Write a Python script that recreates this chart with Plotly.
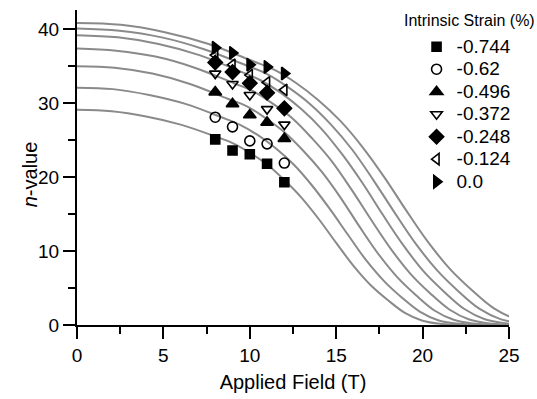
import plotly.graph_objects as go

# ---- data ----
strains = ["-0.744", "-0.62", "-0.496", "-0.372", "-0.248", "-0.124", "0.0"]
field_meas = [8, 9, 10, 11, 12]
n_meas = {
    "-0.744": [25.1, 23.6, 23.1, 21.8, 19.3],
    "-0.62":  [28.1, 26.8, 24.9, 24.5, 21.9],
    "-0.496": [31.5, 29.9, 28.4, 27.4, 25.2],
    "-0.372": [34.0, 32.6, 31.1, 29.2, 27.1],
    "-0.248": [35.5, 34.2, 32.7, 31.4, 29.3],
    "-0.124": [36.5, 35.2, 33.8, 32.8, 31.8],
    "0.0":    [37.5, 36.8, 35.2, 34.9, 34.0],
}

fit_B = {
    "-0.744": [0, 2, 4, 6, 8, 9, 10, 11, 12, 13, 14, 15, 16, 17, 18, 19, 20, 21, 22, 23, 24],
    "-0.62":  [0, 2.09, 4.18, 6.27, 8.36, 9.41, 10.45, 11.5, 12.54, 13.59, 14.63, 15.68, 16.72, 17.77, 18.81, 19.86, 20.9, 21.95, 22.99, 24.04, 25.08],
    "-0.496": [0, 2.18, 4.36, 6.54, 8.72, 9.81, 10.9, 11.99, 13.08, 14.17, 15.26, 16.35, 17.44, 18.53, 19.62, 20.71, 21.8, 22.89, 23.98, 25.07, 26.16],
    "-0.372": [0, 2.27, 4.54, 6.81, 9.08, 10.22, 11.35, 12.49, 13.62, 14.76, 15.89, 17.03, 18.16, 19.3, 20.43, 21.57, 22.7, 23.84, 24.97, 26.11, 27.24],
    "-0.248": [0, 2.36, 4.72, 7.08, 9.44, 10.62, 11.8, 12.98, 14.16, 15.34, 16.52, 17.7, 18.88, 20.06, 21.24, 22.42, 23.6, 24.78, 25.96, 27.14, 28.32],
    "-0.124": [0, 2.45, 4.9, 7.35, 9.8, 11.03, 12.25, 13.48, 14.7, 15.93, 17.15, 18.38, 19.6, 20.83, 22.05, 23.28, 24.5, 25.73, 26.95, 28.18, 29.4],
    "0.0":    [0, 2.54, 5.08, 7.62, 10.16, 11.43, 12.7, 13.97, 15.24, 16.51, 17.78, 19.05, 20.32, 21.59, 22.86, 24.13, 25.4, 26.67, 27.94, 29.21, 30.48],
}
fit_n = {
    "-0.744": [29.1, 28.9, 28.2, 27.1, 25.5, 24.6, 23.3, 21.7, 19.6, 17.2, 14.3, 11.1, 8.0, 5.38, 3.35, 1.60, 0.58, 0.17, 0.04, 0.01, 0.0],
    "-0.62":  [32.1, 31.9, 31.1, 29.9, 28.1, 27.1, 25.7, 23.9, 21.7, 18.9, 15.7, 12.2, 8.8, 5.94, 3.69, 1.77, 0.64, 0.19, 0.05, 0.01, 0.0],
    "-0.496": [35.0, 34.8, 34.0, 32.6, 30.6, 29.6, 28.0, 26.1, 23.6, 20.7, 17.2, 13.3, 9.6, 6.48, 4.03, 1.93, 0.70, 0.21, 0.05, 0.01, 0.0],
    "-0.372": [37.4, 37.1, 36.3, 34.8, 32.7, 31.6, 29.9, 27.9, 25.2, 22.1, 18.3, 14.2, 10.3, 6.92, 4.30, 2.06, 0.75, 0.22, 0.06, 0.01, 0.0],
    "-0.248": [39.2, 38.9, 38.0, 36.5, 34.3, 33.1, 31.4, 29.2, 26.5, 23.1, 19.2, 14.9, 10.8, 7.25, 4.51, 2.16, 0.78, 0.24, 0.06, 0.01, 0.0],
    "-0.124": [40.1, 39.8, 38.9, 37.3, 35.1, 33.9, 32.1, 29.9, 27.1, 23.7, 19.6, 15.2, 11.0, 7.42, 4.61, 2.21, 0.80, 0.24, 0.06, 0.01, 0.0],
    "0.0":    [40.85, 40.6, 39.6, 38.0, 35.7, 34.5, 32.7, 30.4, 27.6, 24.1, 20.0, 15.5, 11.2, 7.56, 4.70, 2.25, 0.82, 0.25, 0.06, 0.01, 0.0],
}

symbols = ["square", "circle-open", "triangle-up", "triangle-down-open",
           "diamond", "triangle-left-open", "triangle-right"]
sizes = [9, 10, 11, 10, 11, 10, 11]

FONT = "Liberation Sans, Arial, sans-serif"
fig = go.Figure()

for s in strains:
    fig.add_trace(go.Scatter(
        x=fit_B[s], y=fit_n[s], mode="lines",
        line=dict(color="#8a8a8a", width=2, shape="spline", smoothing=1.0),
        showlegend=False, hoverinfo="skip"))

for s, sym, sz in zip(strains, symbols, sizes):
    fig.add_trace(go.Scatter(
        x=field_meas, y=n_meas[s], mode="markers",
        name='<span style="font-size:19px">' + s + "</span>",
        marker=dict(symbol=sym, size=sz, color="black",
                    line=dict(color="black", width=1.6))))

fig.update_layout(
    width=537, height=399,
    margin=dict(l=77, r=28, t=10, b=74),
    paper_bgcolor="white", plot_bgcolor="white",
    font=dict(family=FONT, size=18, color="black"),
    showlegend=True,
    legend=dict(x=0.786, y=0.935, xanchor="left", yanchor="top",
                bgcolor="rgba(0,0,0,0)", font=dict(size=15),
                itemwidth=30, tracegroupgap=0),
    annotations=[
        dict(text="Intrinsic Strain (%)", x=0.752, y=0.966,
             xref="paper", yref="paper", xanchor="left", yanchor="middle",
             showarrow=False, font=dict(size=16)),
        dict(text="<i>n</i>-value", x=-0.11, y=0.48, textangle=-90,
             xref="paper", yref="paper", xanchor="center", yanchor="middle",
             showarrow=False, font=dict(size=20)),
    ],
)
fig.update_xaxes(
    range=[0, 25], tickvals=[0, 5, 10, 15, 20, 25], ticks="outside",
    ticklen=12, tickwidth=2, tickcolor="black",
    showline=True, linewidth=2, linecolor="black", showgrid=False, zeroline=False,
    minor=dict(tickvals=[2.5, 7.5, 12.5, 17.5, 22.5], ticks="outside", ticklen=7,
               tickwidth=2, tickcolor="black"),
    title=dict(text="Applied Field (T)", font=dict(size=20), standoff=10),
    tickfont=dict(size=19),
)
fig.update_yaxes(
    range=[0, 42.6], tickvals=[0, 10, 20, 30, 40], ticks="outside",
    ticklen=12, tickwidth=2, tickcolor="black",
    showline=True, linewidth=2, linecolor="black", showgrid=False, zeroline=False,
    minor=dict(tickvals=[5, 15, 25, 35], ticks="outside", ticklen=7,
               tickwidth=2, tickcolor="black"),
    tickfont=dict(size=19),
)

fig.write_html("out.html")
